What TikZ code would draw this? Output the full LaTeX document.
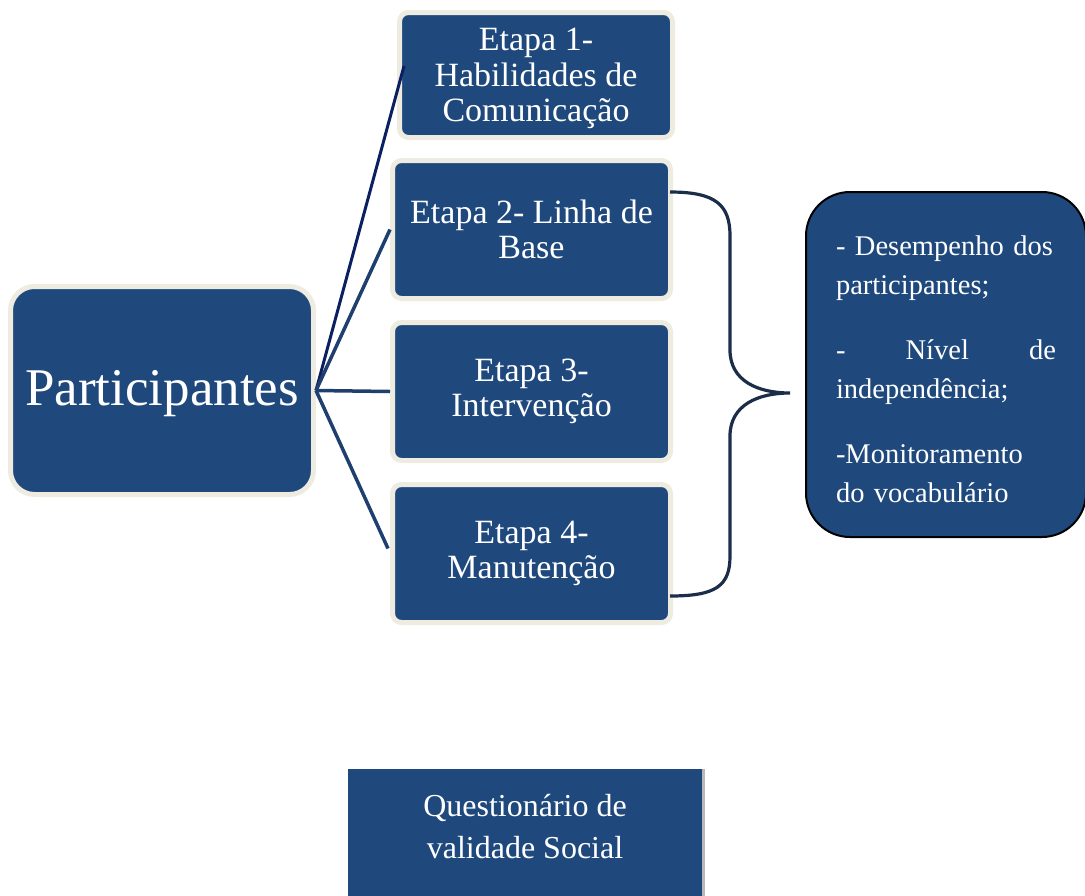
\documentclass[tikz,border=0pt]{standalone}
\usepackage{fontspec}
\setmainfont{Liberation Serif}
\usetikzlibrary{positioning,shadows}
\definecolor{boxblue}{HTML}{1F497D}
\definecolor{cream}{HTML}{EEECE1}
\definecolor{linkblue}{HTML}{1F3F6E}
\definecolor{darknavy}{HTML}{0A2060}
\definecolor{bracecol}{HTML}{1B2D48}
\begin{document}
\begin{tikzpicture}[x=1pt,y=-1pt, every node/.style={text=white,align=center},
  etapa/.style={draw=cream,line width=5pt,fill=boxblue,rounded corners=9pt,minimum width=278pt,minimum height=138pt,font=\fontsize{34}{35.5}\selectfont},
  link/.style={draw=linkblue,line width=3.5pt},
  brace/.style={draw=bracecol,line width=3.2pt}]
\useasboundingbox (0,0) rectangle (1085,895);
\node[etapa,minimum width=303pt,minimum height=208pt,rounded corners=24pt,font=\fontsize{53}{56}\selectfont,text height=42pt] (part) at (162,390.5) {Participantes};
\node[etapa,minimum width=273pt,minimum height=125pt,text depth=0pt] (e1) at (536,75) {Etapa 1-\\Habilidades de\\Comunicação};
\node[etapa] (e2) at (531.5,229.5) {Etapa 2- Linha de\\Base};
\node[etapa] (e3) at (531.5,391.5) {Etapa 3-\\Intervenção};
\node[etapa] (e4) at (531.5,553.5) {Etapa 4-\\Manutenção};
\draw[link,draw=darknavy,line width=3pt] (part.east) -- ([shift={(7,-9)}]e1.west);
\draw[link] (part.east) -- (e2.west);\draw[link] (part.east) -- (e3.west);\draw[link] (part.east) -- ([shift={(-2,-5)}]e4.west);
\coordinate (btop) at (670,192);\coordinate (btip) at (790,393);\coordinate (bbot) at (670,596);
\draw[brace] (btop) .. controls (716,192) and (730,205) .. (730,236) -- (730,350) .. controls (730,381) and (758,393) .. (btip) .. controls (758,393) and (730,405) .. (730,436) -- (730,556) .. controls (730,586) and (716,596) .. (bbot);
\node[draw=black,line width=2pt,fill=boxblue,rounded corners=44pt,minimum width=280pt,minimum height=345pt] (res) at (946,364.5) {};
\node[text width=220pt,align=left,font=\fontsize{28.5}{39}\selectfont] (restxt) at ([yshift=-5pt]res.center) {- Desempenho dos\\participantes;\\[26pt]-\hfill Nível\hfill de\\independência;\\[26pt]-Monitoramento\\do vocabulário};
\node[fill=boxblue,minimum width=354pt,anchor=north,text depth=80pt,inner ysep=25pt,font=\fontsize{32}{42}\selectfont,drop shadow={shadow xshift=3pt,shadow yshift=0pt,fill=gray!70,opacity=0.8}] (social) at (525,769) {Questionário de\\validade Social};
\end{tikzpicture}
\end{document}
